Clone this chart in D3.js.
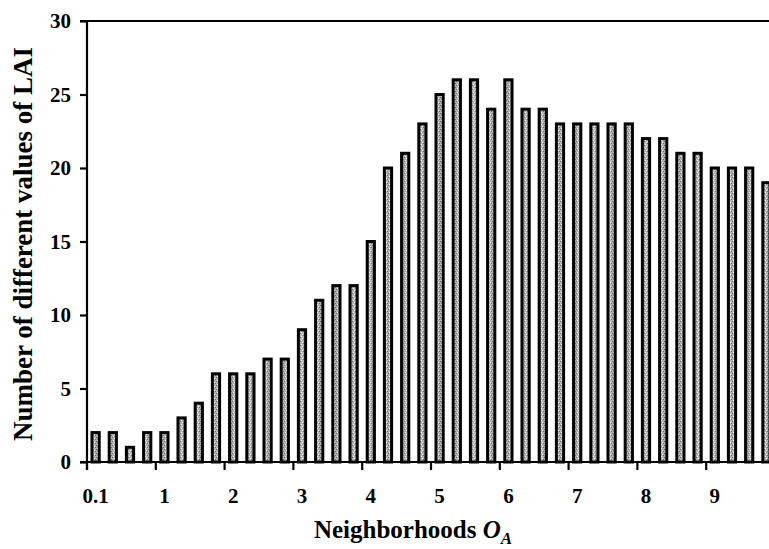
<!DOCTYPE html>
<html>
<head>
<meta charset="utf-8">
<script src="https://cdn.jsdelivr.net/npm/d3@7/dist/d3.min.js"></script>
<style>
  body { margin: 0; background: #fff; }
  text { font-family: "Liberation Serif", "DejaVu Serif", serif; font-weight: bold; fill: #000; }
</style>
</head>
<body>
<svg width="769" height="549"></svg>
<script>
// neighborhood sizes O_A (one bar each)
var categories = ["0.1", "0.25", "0.5", "0.75", "1", "1.25", "1.5", "1.75", "2", "2.25",
  "2.5", "2.75", "3", "3.25", "3.5", "3.75", "4", "4.25", "4.5", "4.75",
  "5", "5.25", "5.5", "5.75", "6", "6.25", "6.5", "6.75", "7", "7.25",
  "7.5", "7.75", "8", "8.25", "8.5", "8.75", "9", "9.25", "9.5", "9.75"];

// number of different values of LAI
var counts = [2, 2, 1, 2, 2, 3, 4, 6, 6, 6,
  7, 7, 9, 11, 12, 12, 15, 20, 21, 23,
  25, 26, 26, 24, 26, 24, 24, 23, 23, 23,
  23, 23, 22, 22, 21, 21, 20, 20, 20, 19];

var xTickLabels = ["0.1", "1", "2", "3", "4", "5", "6", "7", "8", "9"];
var yTicks = [0, 5, 10, 15, 20, 25, 30];

var data = categories.map(function(c, i) { return {x: c, y: counts[i]}; });

var svg = d3.select("svg");
var plotLeft = 87, plotTop = 21, plotBottom = 462, plotRight = 775;

var xScale = d3.scaleBand()
    .domain(categories)
    .range([plotLeft, plotRight])
    .paddingInner(0.58)
    .paddingOuter(0.29);

var yScale = d3.scaleLinear()
    .domain([0, 30])
    .range([plotBottom, plotTop]);

var step = xScale.step();

// dotted grey fill of the bars
var pat = svg.append("defs").append("pattern")
    .attr("id", "dots")
    .attr("patternUnits", "userSpaceOnUse")
    .attr("width", 4)
    .attr("height", 4);
pat.append("rect").attr("width", 4).attr("height", 4).attr("fill", "#b4b4b4");
pat.append("rect").attr("x", 1).attr("y", 0).attr("width", 1).attr("height", 1).attr("fill", "#fff");
pat.append("rect").attr("x", 2).attr("y", 2).attr("width", 1).attr("height", 1).attr("fill", "#fff");
pat.append("rect").attr("x", 0).attr("y", 1).attr("width", 1).attr("height", 1).attr("fill", "#6a6a6a");
pat.append("rect").attr("x", 3).attr("y", 3).attr("width", 1).attr("height", 1).attr("fill", "#6a6a6a");

// bars
svg.selectAll(".bar")
    .data(data)
    .enter()
    .append("rect")
    .attr("class", "bar")
    .attr("x", function(d) { return xScale(d.x); })
    .attr("y", function(d) { return yScale(d.y); })
    .attr("width", xScale.bandwidth())
    .attr("height", function(d) { return plotBottom - yScale(d.y); })
    .attr("fill", "url(#dots)")
    .attr("stroke", "#000")
    .attr("stroke-width", 3);

// top frame line
svg.append("line")
    .attr("x1", plotLeft - 7).attr("x2", 769)
    .attr("y1", plotTop).attr("y2", plotTop)
    .attr("stroke", "#000").attr("stroke-width", 2.2);

// x axis
var labelled = categories.filter(function(d, i) { return i % 4 === 0; });
var xAxis = svg.append("g")
    .attr("transform", "translate(0," + plotBottom + ")")
    .call(d3.axisBottom(xScale)
      .tickValues(labelled)
      .tickSize(8)
      .tickSizeOuter(0)
      .tickFormat(function(d, i) { return xTickLabels[i]; }));
xAxis.select(".domain").remove();
xAxis.selectAll(".tick line")
    .attr("x1", -step / 2).attr("x2", -step / 2)
    .attr("stroke", "#000").attr("stroke-width", 2.2);
xAxis.selectAll(".tick text")
    .attr("y", 41)
    .attr("dy", 0)
    .style("font-size", "21px");
svg.append("line")
    .attr("x1", plotLeft - 7).attr("x2", 769)
    .attr("y1", plotBottom).attr("y2", plotBottom)
    .attr("stroke", "#000").attr("stroke-width", 2.2);

// y axis
var yAxis = svg.append("g")
    .attr("transform", "translate(" + plotLeft + ",0)")
    .call(d3.axisLeft(yScale)
      .tickValues(yTicks)
      .tickSize(7)
      .tickSizeOuter(0));
yAxis.select(".domain")
    .attr("d", "M0," + plotTop + "V" + (plotBottom + 8))
    .attr("stroke", "#000").attr("stroke-width", 2.2);
yAxis.selectAll(".tick line").attr("stroke", "#000").attr("stroke-width", 2.2);
yAxis.selectAll(".tick text")
    .attr("x", -16)
    .style("font-size", "21px");

// axis titles
svg.append("text")
    .attr("x", 413)
    .attr("y", 538)
    .attr("text-anchor", "middle")
    .style("font-size", "25px")
    .text("Neighborhoods ")
    .append("tspan")
    .style("font-style", "italic")
    .text("O")
    .append("tspan")
    .attr("dy", 6)
    .style("font-size", "17px")
    .text("A");

svg.append("text")
    .attr("transform", "translate(32,244) rotate(-90)")
    .attr("text-anchor", "middle")
    .style("font-size", "27px")
    .text("Number of different values of LAI");
</script>
</body>
</html>
